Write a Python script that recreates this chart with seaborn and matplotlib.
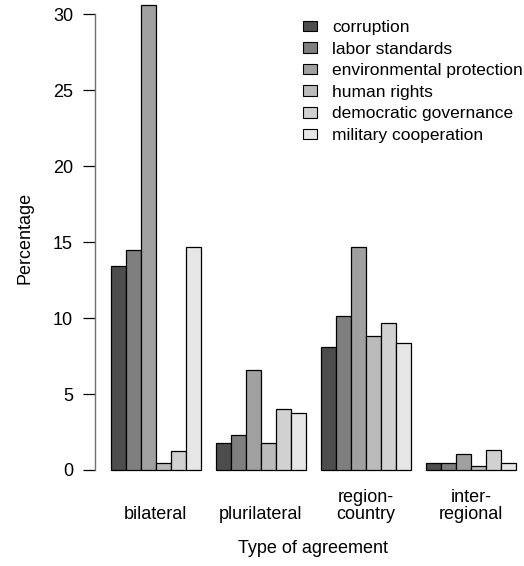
import pandas as pd
import matplotlib
matplotlib.use("Agg")
import matplotlib.pyplot as plt
import seaborn as sns
from matplotlib.patches import Patch

# categories on the x axis and the six issue areas
agreements = ['bilateral', 'plurilateral', 'region-country', 'inter-regional']
tick_labels = ['\nbilateral', '\nplurilateral', 'region-\ncountry', 'inter-\nregional']
issues = ['corruption', 'labor standards', 'environmental protection',
          'human rights', 'democratic governance', 'military cooperation']

# percentages, one list per issue (same order as agreements)
corruption = [13.4, 1.75, 8.1, 0.48]
labor_standards = [14.5, 2.28, 10.1, 0.48]
environmental_protection = [30.6, 6.6, 14.7, 1.05]
human_rights = [0.48, 1.75, 8.84, 0.24]
democratic_governance = [1.27, 4.04, 9.65, 1.29]
military_cooperation = [14.7, 3.77, 8.38, 0.48]

# R gray.colors(6)
greys = ['#4D4D4D', '#7F7F7F', '#A0A0A0', '#BBBBBB', '#D1D1D1', '#E6E6E6']


def create_dataframe():
    series = [corruption, labor_standards, environmental_protection,
              human_rights, democratic_governance, military_cooperation]
    rows = []
    for issue, values in zip(issues, series):
        for agreement, value in zip(agreements, values):
            rows.append({'Agreement': agreement, 'Issue': issue, 'Percentage': value})
    return pd.DataFrame(rows)


def visualize_data(df):
    sns.set_style('white')
    plt.rcParams['font.family'] = ['Liberation Sans', 'DejaVu Sans']
    # plain black text like base R graphics
    for key in ['text.color', 'axes.labelcolor', 'xtick.color', 'ytick.color']:
        plt.rcParams[key] = 'black'

    W, H = 524, 566
    fig = plt.figure(figsize=(W / 100, H / 100), dpi=100)
    # plot region in pixels (R style, partly outside the cropped figure)
    left_px, right_px, bottom_px, top_px = 94.7, 532.0, 488.6, -13.7
    ax = fig.add_axes([left_px / W, 1 - bottom_px / H,
                       (right_px - left_px) / W, (bottom_px - top_px) / H])

    sns.barplot(data=df, x='Agreement', y='Percentage', hue='Issue',
                order=agreements, hue_order=issues, palette=greys,
                saturation=1, width=6 / 7, edgecolor='black', linewidth=0.9,
                legend=False, ax=ax)

    ymax = max(environmental_protection)
    ax.set_xlim(-4.08 / 7, 25.08 / 7)
    ax.set_ylim(-0.04 * ymax, ymax * 1.04)

    for side in ['top', 'right', 'bottom']:
        ax.spines[side].set_visible(False)
    ax.spines['left'].set_bounds(0, 30)
    ax.spines['left'].set_color('#707070')
    ax.spines['left'].set_linewidth(1.0)

    ax.set_yticks([0, 5, 10, 15, 20, 25, 30])
    ax.tick_params(axis='y', left=True, length=8.6, width=0.9, color='black',
                   pad=7, labelsize=13)
    ax.set_xticks(range(len(agreements)))
    ax.set_xticklabels(tick_labels, linespacing=1.0)
    ax.tick_params(axis='x', bottom=False, length=0, pad=0, labelsize=13)

    ax.set_xlabel('Type of agreement', fontsize=13)
    ax.set_ylabel('Percentage', fontsize=13)
    ax.xaxis.set_label_coords(0.5, -0.102)
    ax.yaxis.set_label_coords(-0.141, 0.5)

    handles = [Patch(facecolor=c, edgecolor='black', linewidth=0.8) for c in greys]
    ax.legend(handles, issues, loc='upper left', frameon=False,
              bbox_to_anchor=(303 / W, 1 - 20 / H), bbox_transform=fig.transFigure,
              borderaxespad=0, borderpad=0, fontsize=12.5,
              handlelength=0.8, handleheight=0.57, handletextpad=0.86,
              labelspacing=0.38)

    fig.savefig('out.png', dpi=100)


def main():
    df = create_dataframe()
    visualize_data(df)


if __name__ == "__main__":
    main()
